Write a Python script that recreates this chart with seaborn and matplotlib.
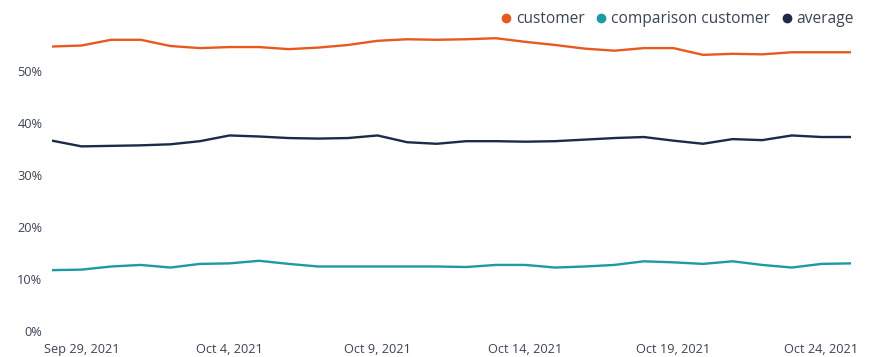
import matplotlib
matplotlib.use("Agg")
import matplotlib.pyplot as plt
import matplotlib.dates as mdates
from matplotlib.lines import Line2D
from matplotlib.ticker import FuncFormatter
import seaborn as sns
import pandas as pd

dates = pd.date_range("2021-09-28", "2021-10-25", freq="D")
customer = [54.8, 55.0, 56.1, 56.1, 54.9, 54.5, 54.7, 54.7, 54.3, 54.6,
            55.1, 55.9, 56.2, 56.1, 56.2, 56.4, 55.7, 55.1, 54.4, 54.0,
            54.5, 54.5, 53.2, 53.4, 53.3, 53.7, 53.7, 53.7]
comparison = [11.8, 11.9, 12.5, 12.8, 12.3, 13.0, 13.1, 13.6, 13.0, 12.5,
              12.5, 12.5, 12.5, 12.5, 12.4, 12.8, 12.8, 12.3, 12.5, 12.8,
              13.5, 13.3, 13.0, 13.5, 12.8, 12.3, 13.0, 13.1]
average = [36.7, 35.6, 35.7, 35.8, 36.0, 36.6, 37.7, 37.5, 37.2, 37.1,
           37.2, 37.7, 36.4, 36.1, 36.6, 36.6, 36.5, 36.6, 36.9, 37.2,
           37.4, 36.7, 36.1, 37.0, 36.8, 37.7, 37.4, 37.4]
series_names = ["customer", "comparison customer", "average"]
colors = ["#e8591f", "#1d9aa6", "#1c2b48"]
tick_dates = ["2021-09-29", "2021-10-04", "2021-10-09", "2021-10-14", "2021-10-19", "2021-10-24"]
y_ticks = [0, 10, 20, 30, 40, 50]

df = pd.concat([
    pd.DataFrame({"date": dates, "value": vals, "series": name})
    for name, vals in zip(series_names, [customer, comparison, average])
])

sns.set_style("white")
plt.rcParams["font.family"] = ["Open Sans", "DejaVu Sans"]
text_color = "#3b4455"

fig = plt.figure(figsize=(8.76, 3.57), dpi=100)
ax = fig.add_axes([52/876, (357-331.5)/357, (851-52)/876, 312/357])
sns.lineplot(data=df, x="date", y="value", hue="series", hue_order=series_names,
             palette=colors, linewidth=1.7, ax=ax, legend=False)

ax.set_xlim(dates[0], dates[-1])
ax.set_ylim(0, 60)
ax.set_xticks(pd.to_datetime(tick_dates))
ax.xaxis.set_major_formatter(mdates.DateFormatter("%b %-d, %Y"))
ax.set_yticks(y_ticks)
ax.yaxis.set_major_formatter(FuncFormatter(lambda v, p: f"{int(v)}%"))
ax.tick_params(axis="both", length=0, labelsize=9.2, colors=text_color)
ax.tick_params(axis="x", pad=8)
ax.tick_params(axis="y", pad=7)
ax.set_xlabel("")
ax.set_ylabel("")
for s in ax.spines.values():
    s.set_visible(False)
ax.grid(False)

handles = [Line2D([0], [0], marker="o", linestyle="none", markersize=6,
                  markerfacecolor=c, markeredgecolor=c) for c in colors]
leg = fig.legend(handles, series_names, loc="upper right", bbox_to_anchor=(0.985, 0.995),
                 ncol=3, frameon=False, fontsize=11.2, handletextpad=0.1,
                 columnspacing=0.6, handlelength=1.0, borderaxespad=0.2)
for t in leg.get_texts():
    t.set_color(text_color)

fig.savefig("out.png", dpi=100)
